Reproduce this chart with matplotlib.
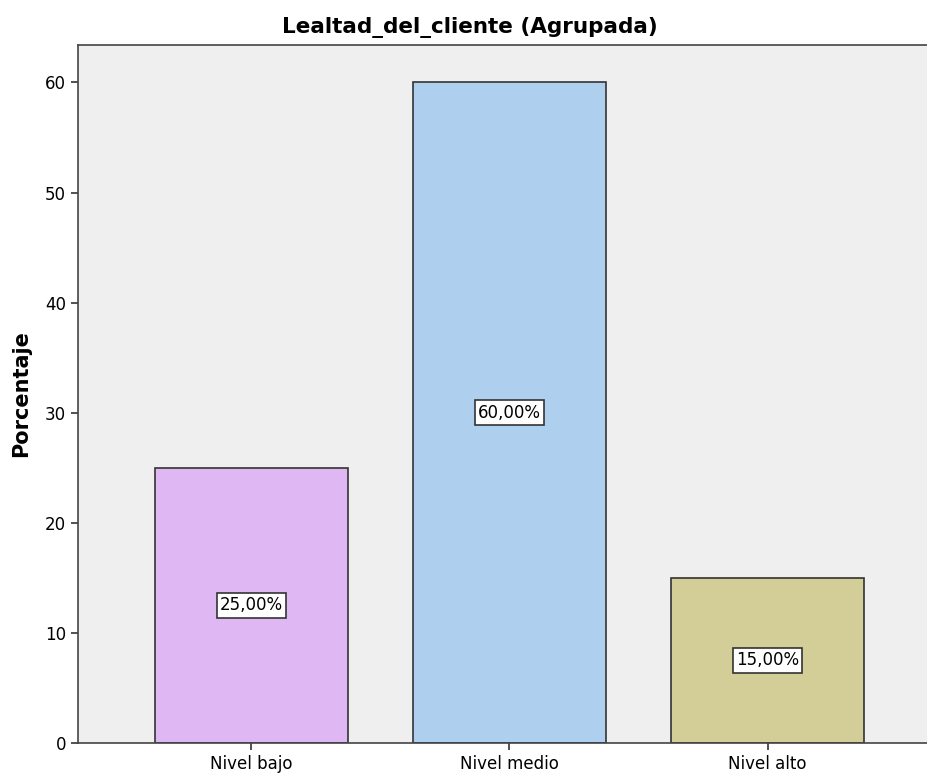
import matplotlib
matplotlib.use("Agg")
import matplotlib.pyplot as plt

categories = ["Nivel bajo", "Nivel medio", "Nivel alto"]
values = [25.0, 60.0, 15.0]
labels = ["25,00%", "60,00%", "15,00%"]
colors = ["#DFB8F3", "#AECFEE", "#D3CD98"]
yticks = [0, 10, 20, 30, 40, 50, 60]

fam = ["DejaVu Sans"]

fig = plt.figure(figsize=(9.27, 7.78), dpi=100)
ax = fig.add_axes([78/927, 1-743/778, 1-78/927, (743-45)/778])
ax.set_facecolor("#EFEFEF")
x = list(range(len(categories)))
ax.bar(x, values, width=0.748, color=colors, edgecolor="#333333", linewidth=1.2, zorder=2)
for xi, v, lab in zip(x, values, labels):
    ax.text(xi, v/2, lab, ha="center", va="center", fontsize=12, family=fam,
            bbox=dict(boxstyle="square,pad=0.2", fc="white", ec="#333333", lw=1.2), zorder=3)

ax.set_xlim(-0.672, 2.618)
ax.set_ylim(0, 63.4)
ax.set_yticks(yticks)
ax.set_xticks(x)
ax.set_xticklabels(categories, family=fam, fontsize=12)
ax.set_yticklabels([str(t) for t in yticks], family=fam, fontsize=12)
ax.tick_params(axis="both", direction="out", length=5, width=1.2, color="#333333")
for s in ["left", "bottom", "top"]:
    ax.spines[s].set_color("#444444")
    ax.spines[s].set_linewidth(1.2)
ax.spines["right"].set_visible(False)
ax.set_ylabel("Porcentaje", fontsize=15, fontweight="bold", family=fam, labelpad=10)
fig.text(470/927, 1-27/778, "Lealtad_del_cliente (Agrupada)", ha="center", va="center",
         fontsize=15.5, fontweight="bold", family=fam)
fig.savefig("out.png", dpi=100)
